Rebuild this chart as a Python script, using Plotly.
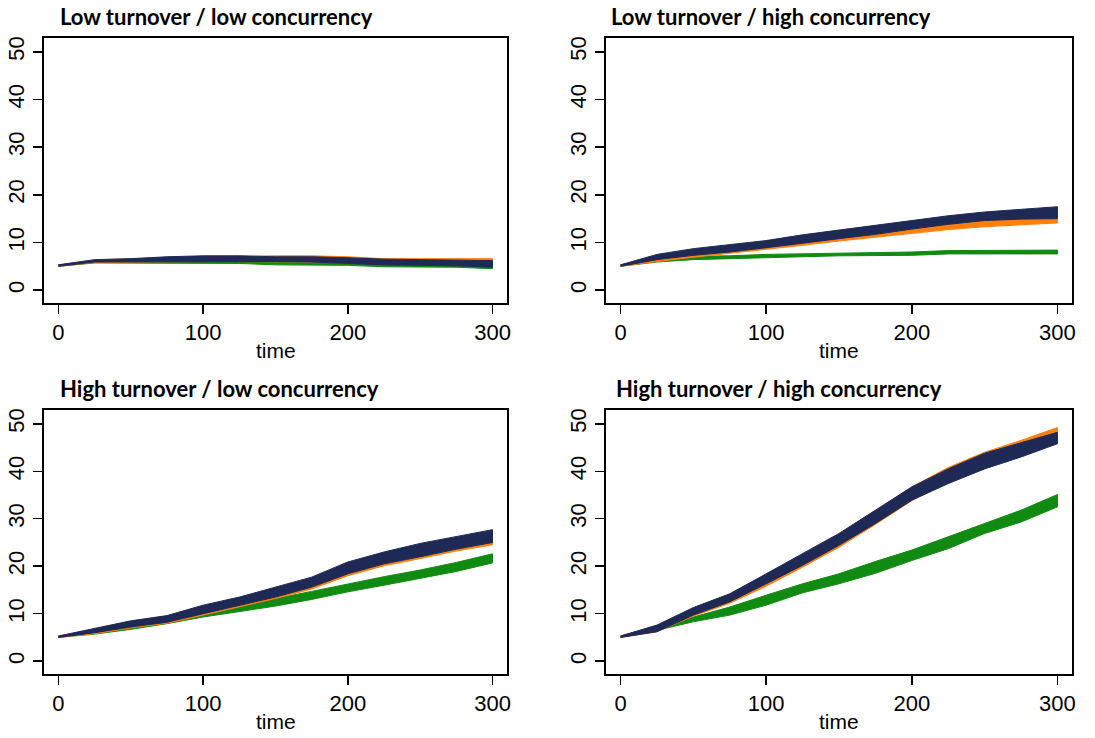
import plotly.graph_objects as go

# sampled time points
T = [0, 25, 50, 75, 100, 125, 150, 175, 200, 225, 250, 275, 300]

panel_titles = ["Low turnover / low concurrency", "Low turnover / high concurrency",
                "High turnover / low concurrency", "High turnover / high concurrency"]

# Panel 1: low turnover / low concurrency
p1_navy_lo = [5.0, 5.9, 6.0, 6.0, 6.0, 6.0, 6.0, 5.9, 5.6, 5.3, 5.2, 5.1, 4.8]
p1_navy_hi = [5.3, 6.4, 6.6, 7.0, 7.2, 7.2, 7.0, 7.0, 6.8, 6.5, 6.4, 6.3, 6.2]
p1_orange_lo = [5.0, 5.8, 5.9, 5.9, 6.0, 6.0, 6.0, 5.9, 5.7, 5.5, 5.5, 5.4, 5.3]
p1_orange_hi = [5.3, 6.3, 6.6, 6.8, 7.0, 7.1, 7.2, 7.2, 7.0, 6.6, 6.6, 6.6, 6.6]
p1_green_lo = [5.0, 5.7, 5.6, 5.6, 5.6, 5.6, 5.3, 5.3, 5.2, 4.9, 4.9, 4.8, 4.5]
p1_green_hi = [5.3, 6.0, 6.1, 6.2, 6.2, 6.2, 6.0, 6.0, 5.9, 5.6, 5.6, 5.5, 5.2]

# Panel 2: low turnover / high concurrency
p2_navy_lo = [5.0, 6.4, 7.3, 8.0, 8.9, 9.8, 10.8, 11.7, 12.8, 13.8, 14.6, 14.9, 15.0]
p2_navy_hi = [5.3, 7.5, 8.7, 9.6, 10.4, 11.6, 12.6, 13.6, 14.6, 15.6, 16.4, 17.0, 17.5]
p2_orange_lo = [5.0, 6.0, 6.9, 7.8, 8.6, 9.4, 10.3, 11.2, 11.9, 12.7, 13.3, 13.7, 14.1]
p2_orange_hi = [5.3, 7.0, 8.0, 9.0, 9.8, 10.9, 12.0, 12.9, 13.8, 14.8, 15.5, 15.9, 16.0]
p2_green_lo = [5.0, 5.9, 6.4, 6.5, 6.8, 7.0, 7.2, 7.3, 7.3, 7.6, 7.6, 7.6, 7.6]
p2_green_hi = [5.3, 6.6, 7.1, 7.2, 7.5, 7.6, 7.8, 7.9, 8.0, 8.3, 8.3, 8.4, 8.4]

# Panel 3: high turnover / low concurrency
p3_navy_lo = [5.0, 6.0, 7.2, 8.2, 10.0, 11.8, 13.5, 15.6, 18.4, 20.5, 22.0, 23.6, 25.0]
p3_navy_hi = [5.3, 6.9, 8.5, 9.6, 11.8, 13.5, 15.6, 17.7, 20.9, 23.0, 24.8, 26.2, 27.7]
p3_orange_lo = [5.0, 5.8, 7.0, 8.0, 9.7, 11.4, 13.2, 15.2, 18.0, 20.1, 21.6, 23.2, 24.5]
p3_orange_hi = [5.3, 6.7, 8.3, 9.4, 11.5, 13.2, 15.3, 17.4, 20.4, 22.6, 24.4, 25.8, 27.2]
p3_green_lo = [5.0, 5.7, 6.7, 7.9, 9.3, 10.4, 11.6, 13.0, 14.6, 16.0, 17.4, 18.9, 20.7]
p3_green_hi = [5.3, 6.3, 7.6, 8.8, 10.6, 11.9, 13.2, 14.7, 16.3, 17.8, 19.2, 20.8, 22.6]

# Panel 4: high turnover / high concurrency
p4_navy_lo = [5.0, 6.2, 9.7, 12.5, 16.3, 20.2, 24.4, 29.0, 33.9, 37.4, 40.5, 43.0, 45.8]
p4_navy_hi = [5.3, 7.6, 11.3, 14.2, 18.4, 22.7, 26.9, 31.8, 36.7, 40.5, 43.8, 46.0, 48.2]
p4_orange_lo = [5.0, 6.2, 9.5, 12.2, 15.8, 19.8, 24.0, 28.8, 33.8, 37.8, 41.2, 43.5, 46.8]
p4_orange_hi = [5.3, 7.4, 11.0, 14.0, 18.0, 22.4, 26.6, 31.6, 36.7, 40.8, 44.0, 46.5, 49.2]
p4_green_lo = [5.0, 6.5, 8.3, 9.7, 11.8, 14.4, 16.3, 18.5, 21.2, 23.7, 26.9, 29.3, 32.5]
p4_green_hi = [5.3, 7.4, 9.3, 11.4, 13.9, 16.3, 18.4, 21.0, 23.4, 26.2, 29.0, 31.8, 35.1]

NAVY = "#1E2A55"
ORANGE = "#FF7F0E"
GREEN = "#118A11"

panels = [
    [(p1_green_lo, p1_green_hi, GREEN), (p1_orange_lo, p1_orange_hi, ORANGE), (p1_navy_lo, p1_navy_hi, NAVY)],
    [(p2_green_lo, p2_green_hi, GREEN), (p2_orange_lo, p2_orange_hi, ORANGE), (p2_navy_lo, p2_navy_hi, NAVY)],
    [(p3_green_lo, p3_green_hi, GREEN), (p3_orange_lo, p3_orange_hi, ORANGE), (p3_navy_lo, p3_navy_hi, NAVY)],
    [(p4_green_lo, p4_green_hi, GREEN), (p4_orange_lo, p4_orange_hi, ORANGE), (p4_navy_lo, p4_navy_hi, NAVY)],
]

W, H = 1095, 738
# plot boxes in pixels: (left, right, top, bottom)
boxes = [(44, 507, 38, 303), (606, 1072, 38, 303), (44, 507, 410, 674), (606, 1072, 410, 674)]
title_pos = [(58, 17), (609, 17), (58, 388), (614, 388)]

fig = go.Figure()
layout = dict(
    width=W, height=H, margin=dict(l=0, r=0, t=0, b=0, autoexpand=False),
    paper_bgcolor="white", plot_bgcolor="white", showlegend=False,
    hovermode=False, annotations=[],
)

for i, series in enumerate(panels):
    n = "" if i == 0 else str(i + 1)
    xa, ya = "x" + n, "y" + n
    for lo, hi, col in series:
        fig.add_trace(go.Scatter(
            x=T + T[::-1], y=hi + lo[::-1], mode="lines", fill="toself",
            fillcolor=col, line=dict(color=col, width=1), xaxis=xa, yaxis=ya))
    l, r, t, b = boxes[i]
    common = dict(showline=True, mirror=True, linewidth=2, linecolor="black",
                  showgrid=False, zeroline=False, ticks="outside", ticklen=9,
                  tickwidth=1.5, tickcolor="black", automargin=False,
                  tickfont=dict(family="Liberation Sans", size=22, color="black"))
    layout["xaxis" + n] = dict(domain=[l / W, r / W], anchor=ya, range=[-10, 310],
                               tickvals=[0, 100, 200, 300], **common)
    layout["yaxis" + n] = dict(domain=[1 - b / H, 1 - t / H], anchor=xa, range=[-2.7, 52.9],
                               tickvals=[0, 10, 20, 30, 40, 50], tickangle=-90, **common)
    tx, ty = title_pos[i]
    layout["annotations"].append(dict(
        text="<b>" + panel_titles[i] + "</b>", xref="paper", yref="paper",
        x=tx / W, y=1 - ty / H, xanchor="left", yanchor="middle", showarrow=False,
        font=dict(family="Lato", size=22, color="black")))
    layout["annotations"].append(dict(
        text="time", xref="paper", yref="paper", x=((l + r) / 2) / W,
        y=1 - (b + 47) / H, xanchor="center", yanchor="middle", showarrow=False,
        font=dict(family="Liberation Sans", size=21, color="black")))

fig.update_layout(**layout)
fig.write_html("out.html", config={"displayModeBar": False, "staticPlot": True},
               post_script="document.body.style.margin='0';document.body.style.padding='0';")
